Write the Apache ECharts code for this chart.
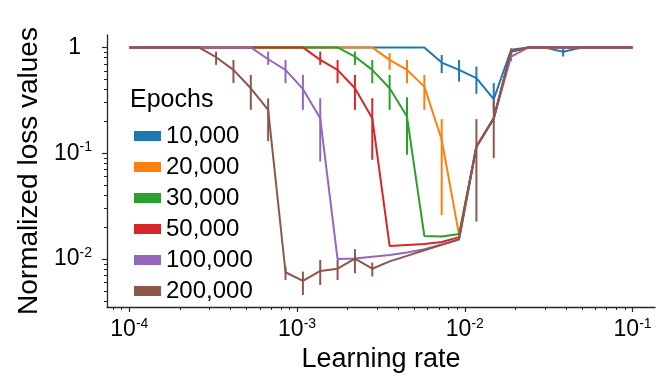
<!DOCTYPE html>
<html><head><meta charset="utf-8">
<script src="https://cdn.jsdelivr.net/npm/echarts@6/dist/echarts.min.js"></script>
<style>html,body{margin:0;padding:0;background:#fff;}#c{width:666px;height:385px;}</style>
</head><body><div id="c"></div>
<script>
// Learning rates (x values)
const lr = [1.000e-4, 1.269e-4, 1.610e-4, 2.043e-4, 2.593e-4, 3.290e-4, 4.175e-4, 5.298e-4, 6.723e-4, 8.532e-4,
  1.083e-3, 1.374e-3, 1.743e-3, 2.212e-3, 2.807e-3, 3.562e-3, 4.520e-3, 5.736e-3, 7.279e-3, 9.237e-3,
  1.172e-2, 1.487e-2, 1.888e-2, 2.395e-2, 3.039e-2, 3.857e-2, 4.894e-2, 6.210e-2, 7.880e-2, 1.000e-1];

const seriesNames = ['10,000', '20,000', '30,000', '50,000', '100,000', '200,000'];
const seriesColors = ['#1f77b4', '#ff7f0e', '#2ca02c', '#d62728', '#9467bd', '#8c564b'];

const loss10k = [1,1,1,1,1,1,1,1,1,1, 1,1,1,1,1,1,1,1,0.719,0.613, 0.512,0.324,0.95,1,0.99,0.91,0.99,1,1,1];
const loss20k = [1,1,1,1,1,1,1,1,1,1, 1,1,1,1,1,0.762,0.613,0.426,0.134,0.0169, 0.115,0.214,0.913,1,1,1,1,1,1,1];
const loss30k = [1,1,1,1,1,1,1,1,1,1, 1,1,1,0.82,0.613,0.411,0.222,0.0165,0.0163,0.0172, 0.115,0.214,0.913,1,1,1,1,1,1,1];
const loss50k = [1,1,1,1,1,1,1,1,1,1, 1,0.762,0.613,0.411,0.214,0.0133,0.0136,0.0139,0.0145,0.0161, 0.115,0.214,0.913,1,1,1,1,1,1,1];
const loss100k = [1,1,1,1,1,1,1,1,0.773,0.613, 0.405,0.214,0.0100,0.0101,0.0105,0.0109,0.0115,0.0124,0.0137,0.0153, 0.115,0.214,0.82,1,1,1,1,1,1,1];
const loss200k = [1,1,1,1,1,0.808,0.613,0.411,0.257,0.0075, 0.00621,0.00772,0.0081,0.0101,0.0081,0.0095,0.0107,0.0121,0.0136,0.0154, 0.115,0.214,0.913,1,1,1,1,1,1,1];

// Error bars: [index into lr, lower, upper]
const err10k = [[18,0.57,0.849],[19,0.475,0.762],[20,0.364,0.659],[21,0.25,0.46],[25,0.82,1.0]];
const err20k = [[15,0.613,0.88],[16,0.459,0.762],[17,0.257,0.55],[18,0.026,0.21]];
const err30k = [[13,0.684,0.913],[14,0.459,0.762],[15,0.257,0.55],[16,0.0967,0.338]];
const err50k = [[11,0.684,0.913],[12,0.459,0.762],[13,0.257,0.55],[14,0.0866,0.331]];
const err100k = [[8,0.684,0.913],[9,0.459,0.762],[10,0.257,0.55],[11,0.0833,0.331],[22,0.74,0.9]];
const err200k = [[5,0.684,0.913],[6,0.462,0.762],[7,0.257,0.55],[8,0.13,0.33],[9,0.00634,0.00848],[10,0.00458,0.0076],
  [11,0.00569,0.00981],[12,0.00634,0.00981],[13,0.00734,0.0124],[14,0.00684,0.00927],[20,0.0226,0.21],[21,0.09,0.319],[22,0.85,0.98]];

// Axis ticks
const xMajorTicks = [1e-4, 1e-3, 1e-2, 1e-1];
const xMinorTicks = [8e-5, 9e-5, 2e-4, 3e-4, 4e-4, 5e-4, 6e-4, 7e-4, 8e-4, 9e-4, 2e-3, 3e-3, 4e-3, 5e-3, 6e-3, 7e-3, 8e-3, 9e-3,
  2e-2, 3e-2, 4e-2, 5e-2, 6e-2, 7e-2, 8e-2, 9e-2];
const yMajorTicks = [0.01, 0.1, 1];
const yMinorTicks = [4e-3, 5e-3, 6e-3, 7e-3, 8e-3, 9e-3, 0.02, 0.03, 0.04, 0.05, 0.06, 0.07, 0.08, 0.09, 0.2, 0.3, 0.4, 0.5, 0.6, 0.7, 0.8, 0.9];

const allLoss = [loss10k, loss20k, loss30k, loss50k, loss100k, loss200k];
const allErr = [err10k, err20k, err30k, err50k, err100k, err200k];

const FONT = "'Liberation Sans', Arial, sans-serif";
const AX = '#262626';

function fmt(v) {
  const e = Math.round(Math.log10(v));
  if (e === 0) return '{one|1}';
  return '{b|10}{s|' + e + '}';
}
const rich = {
  b: { fontSize: 23, fontFamily: FONT, color: '#000', lineHeight: 26 },
  one: { fontSize: 23, fontFamily: FONT, color: '#000', lineHeight: 26, padding: [0, 11, 0, 0] },
  s: { fontSize: 14, fontFamily: FONT, color: '#000', verticalAlign: 'top', lineHeight: 14 }
};

const series = [];
allLoss.forEach((arr, i) => {
  series.push({
    type: 'line', name: seriesNames[i], xAxisIndex: 0, yAxisIndex: 0,
    data: lr.map((x, k) => [x, arr[k]]),
    showSymbol: false, symbol: 'none', color: seriesColors[i],
    lineStyle: { width: 2, color: seriesColors[i] }, z: 2 + i * 2, animation: false
  });
  series.push({
    type: 'custom', name: seriesNames[i], xAxisIndex: 0, yAxisIndex: 0,
    data: allErr[i].map(e => [lr[e[0]], e[1], e[2]]),
    encode: { x: 0, y: [1, 2] },
    color: seriesColors[i], z: 3 + i * 2, animation: false, silent: true,
    renderItem: (function (col) {
      return function (params, api) {
        const p1 = api.coord([api.value(0), api.value(1)]);
        const p2 = api.coord([api.value(0), api.value(2)]);
        return { type: 'line', shape: { x1: p1[0], y1: p1[1], x2: p2[0], y2: p2[1] },
          style: { stroke: col, lineWidth: 2 } };
      };
    })(seriesColors[i])
  });
});

const xMin = 7.36e-5, xMax = 0.136, yMin = 0.00352, yMax = 1.31;

const option = {
  animation: false,
  backgroundColor: '#fff',
  grid: { left: 107, right: 11, top: 35, bottom: 78, containLabel: false },
  xAxis: [
    { type: 'log', logBase: 10, min: xMin, max: xMax, position: 'bottom',
      axisLine: { show: true, lineStyle: { color: AX, width: 1.3 } },
      axisTick: { show: true, customValues: xMajorTicks, length: 5, lineStyle: { color: AX, width: 1.2 } },
      axisLabel: { customValues: xMajorTicks, formatter: fmt, rich: rich, margin: 10 },
      splitLine: { show: false },
      name: 'Learning rate', nameLocation: 'middle', nameGap: 30,
      nameTextStyle: { fontSize: 27, fontFamily: FONT, color: '#000' } },
    { type: 'log', logBase: 10, min: xMin, max: xMax, position: 'bottom', gridIndex: 0,
      axisLine: { show: false },
      axisTick: { show: true, customValues: xMinorTicks, length: 3, lineStyle: { color: AX, width: 1 } },
      axisLabel: { show: false }, splitLine: { show: false } }
  ],
  yAxis: [
    { type: 'log', logBase: 10, min: yMin, max: yMax, position: 'left',
      axisLine: { show: true, lineStyle: { color: AX, width: 1.3 } },
      axisTick: { show: true, customValues: yMajorTicks, length: 5, lineStyle: { color: AX, width: 1.2 } },
      axisLabel: { customValues: yMajorTicks, formatter: fmt, rich: rich, margin: 15 },
      splitLine: { show: false },
      name: 'Normalized loss values', nameLocation: 'middle', nameGap: 60, nameRotate: 90,
      nameTextStyle: { fontSize: 28, fontFamily: FONT, color: '#000' } },
    { type: 'log', logBase: 10, min: yMin, max: yMax, position: 'left', gridIndex: 0,
      axisLine: { show: false },
      axisTick: { show: true, customValues: yMinorTicks, length: 3, lineStyle: { color: AX, width: 1 } },
      axisLabel: { show: false }, splitLine: { show: false } }
  ],
  legend: {
    data: seriesNames, orient: 'vertical', left: 129, top: 119,
    itemWidth: 27, itemHeight: 10, itemGap: 7, icon: 'rect', selectedMode: false,
    textStyle: { fontSize: 24, fontFamily: FONT, color: '#000', lineHeight: 24 }
  },
  graphic: [
    { type: 'text', left: 130, top: 88, style: { text: 'Epochs', fontSize: 25, fontFamily: FONT, fill: '#000' } }
  ],
  series: series
};

const chart = echarts.init(document.getElementById('c'), null, { renderer: 'canvas' });
chart.setOption(option);
</script>
</body></html>
